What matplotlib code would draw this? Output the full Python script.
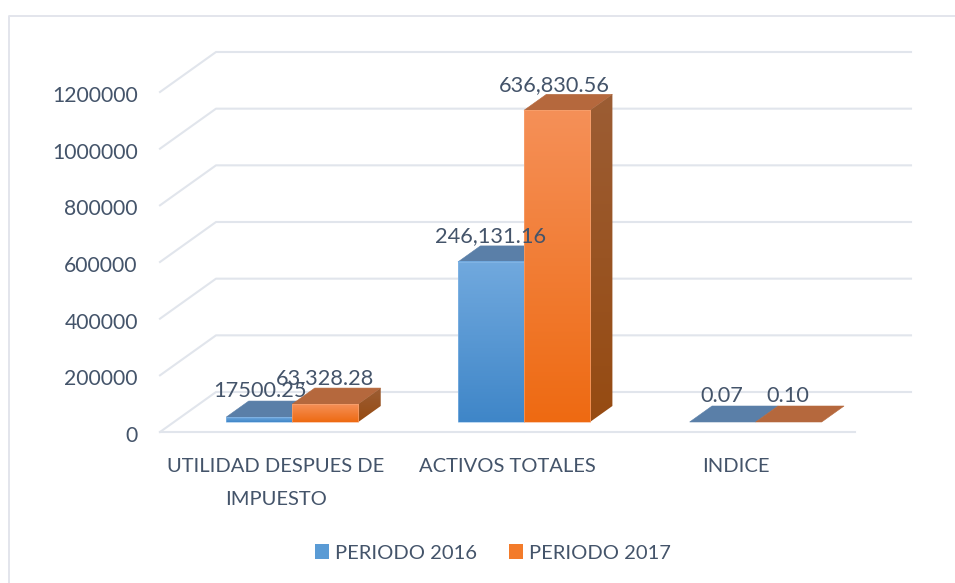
import matplotlib
matplotlib.use("Agg")
import matplotlib.pyplot as plt
import numpy as np
from matplotlib.colors import LinearSegmentedColormap
from matplotlib.lines import Line2D
from matplotlib.patches import Patch, Polygon, Rectangle
from matplotlib.transforms import ScaledTranslation

plt.rcParams["font.family"] = ["Lato", "DejaVu Sans"]

categories = ["UTILIDAD DESPUES DE\nIMPUESTO", "ACTIVOS TOTALES", "INDICE"]
series_names = ["PERIODO 2016", "PERIODO 2017"]
values_2016 = [17500.25, 565000, 0.07]
values_2017 = [63328.28, 1100000, 0.10]
labels_2016 = ["17500.25", "246,131.16", "0.07"]
labels_2017 = ["63,328.28", "636,830.56", "0.10"]
y_ticks = [0, 200000, 400000, 600000, 800000, 1000000, 1200000]

W, H = 955, 583
TEXT = "#44546A"
GRID = "#E1E5EC"
FS_NUM = 15.2
FS_LABEL = 15.7
FS_CAPS = 14.5
AX_L, AX_R, AX_B, AX_T = 160, 855, 432, 92
DEPTH_X_PX, DEPTH_Y_PX = 56, 40
D_FRONT, D_BACK = 0.25, 0.65
BAR_PX = 66
SHIFT_PX = 2.5

fig = plt.figure(figsize=(W / 100, H / 100), dpi=100, facecolor="white")
ax = fig.add_axes([AX_L / W, 1 - AX_B / H, (AX_R - AX_L) / W, (AX_B - AX_T) / H])
ax.patch.set_alpha(0)
XMAX, YMAX = 3, 1200000
px_x = XMAX / (AX_R - AX_L)
px_y = YMAX / (AX_B - AX_T)


def proj(x, v, d):
    return x + d * DEPTH_X_PX * px_x, v + d * DEPTH_Y_PX * px_y


# chart frame: only the top and left edges fall inside the picture
fig.add_artist(Line2D([9 / W, 9 / W, 1], [0, 1 - 15.5 / H, 1 - 15.5 / H], transform=fig.transFigure,
                      color="#E3E5EC", lw=1.4))

# gridlines: side wall + back wall + floor
for v in y_ticks:
    pts = [proj(0, v, 0), proj(0, v, 1), proj(XMAX, v, 1)]
    ax.plot(*zip(*pts), color=GRID, lw=1.5, clip_on=False, zorder=1, solid_joinstyle="round")
ax.plot(*zip(proj(0, 0, 0), proj(XMAX, 0, 0)), color=GRID, lw=1.5, clip_on=False, zorder=1)

styles = [
    dict(front=["#71A9DE", "#3F86C8"], side=["#3F6C98", "#2F5F8E"], top="#5A7FA8", edge="#8CBBE8"),
    dict(front=["#F59058", "#EE6A12"], side=["#9C5D34", "#964B12"], top="#B5683D", edge="#F8A878"),
]

z = 2


def gradient(colors, extent, zorder, clip=None):
    cmap = LinearSegmentedColormap.from_list("g", colors)
    im = ax.imshow(np.linspace(0, 1, 128).reshape(-1, 1), cmap=cmap, extent=extent,
                   origin="upper", aspect="auto", interpolation="bilinear", zorder=zorder)
    if clip is not None:
        ax.add_patch(clip)
        im.set_clip_path(clip)
    return im


bar_w = BAR_PX * px_x
shift = SHIFT_PX * px_x
all_values = [values_2016, values_2017]
all_labels = [labels_2016, labels_2017]
label_nudge = [[1, 0, -1], [0, -3, -1]]

for i in range(len(categories)):
    centre = i + 0.5 + shift
    for s, (vals, labs, st) in enumerate(zip(all_values, all_labels, styles)):
        x0 = centre - bar_w + s * bar_w
        x1 = x0 + bar_w
        v = vals[i]
        # top face
        top = [proj(x0, v, D_FRONT), proj(x1, v, D_FRONT), proj(x1, v, D_BACK), proj(x0, v, D_BACK)]
        ax.add_patch(Polygon(top, closed=True, facecolor=st["top"], edgecolor=st["top"], lw=0.4, zorder=z))
        z += 1
        if v / px_y >= 1:
            # side face
            side = [proj(x1, 0, D_FRONT), proj(x1, v, D_FRONT), proj(x1, v, D_BACK), proj(x1, 0, D_BACK)]
            xs, ys = zip(*side)
            clip = Polygon(side, closed=True, facecolor="none", edgecolor="none", zorder=z)
            gradient(st["side"], (min(xs), max(xs), min(ys), max(ys)), z, clip)
            z += 1
            # front face
            fx0, fy0 = proj(x0, 0, D_FRONT)
            fx1, fy1 = proj(x1, v, D_FRONT)
            gradient(st["front"], (fx0, fx1, fy0, fy1), z)
            z += 1
            ax.add_patch(Rectangle((fx0, fy0), fx1 - fx0, fy1 - fy0, fill=False,
                                   edgecolor=st["edge"], lw=0.6, alpha=0.7, zorder=z))
            z += 1
        # data label
        lx, ly = proj((x0 + x1) / 2, v, D_FRONT)
        _, by = proj(x0, v, D_BACK)
        ax.annotate(labs[i], xy=(lx, by), xytext=(label_nudge[s][i] * 0.72, 7),
                    textcoords="offset points", ha="center", va="center", fontsize=FS_LABEL,
                    color=TEXT, annotation_clip=False, zorder=100)

ax.set_xlim(0, XMAX)
ax.set_ylim(0, YMAX)
for sp in ax.spines.values():
    sp.set_visible(False)
ax.set_yticks(y_ticks)
ax.set_yticklabels([str(t) for t in y_ticks], fontsize=FS_NUM, color=TEXT)
ax.set_xticks(np.arange(len(categories)) + 0.5)
ax.set_xticklabels(categories, fontsize=FS_CAPS, color=TEXT, linespacing=2.15)
ax.tick_params(axis="both", length=0)
ax.tick_params(axis="y", pad=16)
ax.tick_params(axis="x", pad=19)

# small pixel nudges of tick labels
down2 = ScaledTranslation(0, -2 / 100, fig.dpi_scale_trans)
for lab in ax.get_yticklabels():
    lab.set_transform(lab.get_transform() + down2)
xlabs = ax.get_xticklabels()
xlabs[2].set_transform(xlabs[2].get_transform() + ScaledTranslation(-3.5 / 100, 0, fig.dpi_scale_trans))

handles = [Patch(facecolor="#5A9BD5", edgecolor="none"), Patch(facecolor="#F37B2A", edgecolor="none")]
fig.legend(handles, series_names, loc="center", bbox_to_anchor=(493 / W, 1 - 553 / H), ncol=2,
           frameon=False, fontsize=FS_CAPS, labelcolor=TEXT, handlelength=0.7, handleheight=0.7,
           handletextpad=0.32, columnspacing=1.55)

fig.savefig("out.png", dpi=100, facecolor="white")
